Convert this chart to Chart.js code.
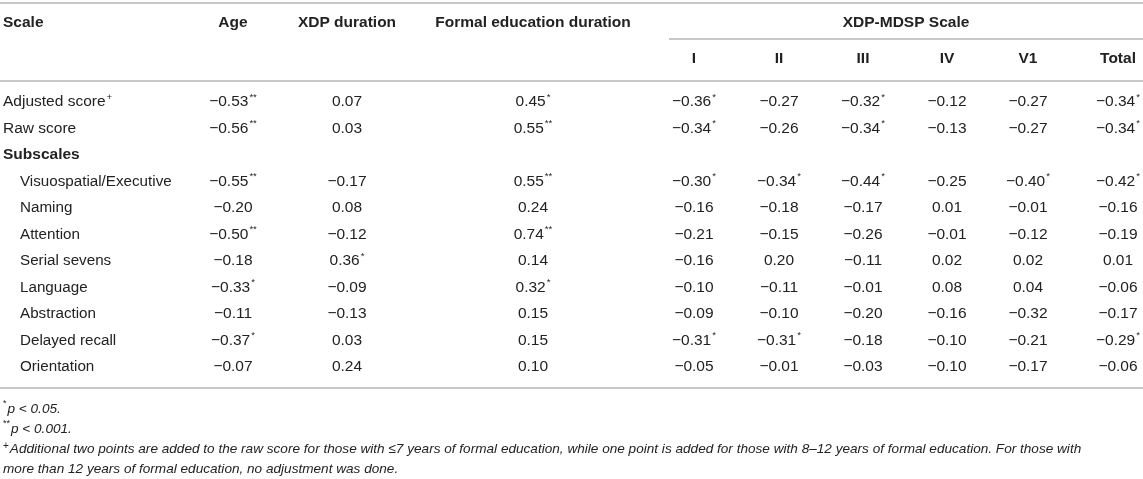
<!DOCTYPE html>
<html>
<head>
<meta charset="utf-8">
<script src="https://cdn.jsdelivr.net/npm/chart.js@4/dist/chart.umd.min.js"></script>
<style>
  html, body { margin: 0; padding: 0; background: #fff; }
  #wrap { position: relative; width: 1143px; height: 479px; }
</style>
</head>
<body>
<div id="wrap"><canvas id="corrTable"></canvas></div>
<script>
// --- table content ---
const firstHead = "Scale";
const columnHeads = ["Age", "XDP duration", "Formal education duration", "I", "II", "III", "IV", "V1", "Total"];
const groupHead = "XDP-MDSP Scale";
const mainRows = ["Adjusted score", "Raw score"];
const sectionLabel = "Subscales";
const subRows = ["Visuospatial/Executive", "Naming", "Attention", "Serial sevens", "Language",
                 "Abstraction", "Delayed recall", "Orientation"];

// correlations, rows = mainRows then subRows
const age      = [-0.53, -0.56, -0.55, -0.20, -0.50, -0.18, -0.33, -0.11, -0.37, -0.07];
const xdpDur   = [ 0.07,  0.03, -0.17,  0.08, -0.12,  0.36, -0.09, -0.13,  0.03,  0.24];
const eduDur   = [ 0.45,  0.55,  0.55,  0.24,  0.74,  0.14,  0.32,  0.15,  0.15,  0.10];
const mdspI    = [-0.36, -0.34, -0.30, -0.16, -0.21, -0.16, -0.10, -0.09, -0.31, -0.05];
const mdspII   = [-0.27, -0.26, -0.34, -0.18, -0.15,  0.20, -0.11, -0.10, -0.31, -0.01];
const mdspIII  = [-0.32, -0.34, -0.44, -0.17, -0.26, -0.11, -0.01, -0.20, -0.18, -0.03];
const mdspIV   = [-0.12, -0.13, -0.25,  0.01, -0.01,  0.02,  0.08, -0.16, -0.10, -0.10];
const mdspV1   = [-0.27, -0.27, -0.40, -0.01, -0.12,  0.02,  0.04, -0.32, -0.21, -0.17];
const mdspTot  = [-0.34, -0.34, -0.42, -0.16, -0.19,  0.01, -0.06, -0.17, -0.29, -0.06];

// number of significance stars per cell
const ageSig   = [2, 2, 2, 0, 2, 0, 1, 0, 1, 0];
const xdpSig   = [0, 0, 0, 0, 0, 1, 0, 0, 0, 0];
const eduSig   = [1, 2, 2, 0, 2, 0, 1, 0, 0, 0];
const iSig     = [1, 1, 1, 0, 0, 0, 0, 0, 1, 0];
const iiSig    = [0, 0, 1, 0, 0, 0, 0, 0, 1, 0];
const iiiSig   = [1, 1, 1, 0, 0, 0, 0, 0, 0, 0];
const ivSig    = [0, 0, 0, 0, 0, 0, 0, 0, 0, 0];
const v1Sig    = [0, 0, 1, 0, 0, 0, 0, 0, 0, 0];
const totSig   = [1, 1, 1, 0, 0, 0, 0, 0, 1, 0];

const footnotes = [
  ["*", "p < 0.05."],
  ["**", "p < 0.001."],
  ["+", "Additional two points are added to the raw score for those with \u22647 years of formal education, while one point is added for those with 8\u201312 years of formal education. For those with"],
  ["", "more than 12 years of formal education, no adjustment was done."]
];

// --- layout (pixels) ---
const W = 1143, H = 479;
const colCentre = [233, 347, 533, 694, 779, 863, 947, 1028, 1118];
const groupFrom = 669;
const firstRowPx = 102, rowPitch = 26.5;
const headRow1 = 23, headRow2 = 59;
const ruleTop = 3, ruleGroup = 39, ruleHead = 81, ruleBottom = 388;
const footTop = 409, footPitch = 20;
const leftPad = 3, indent = 20;
const ink = "#222";
const ruleColor = "#c8c8c8";
const FAMILY = "'Liberation Sans', Arial, Helvetica, sans-serif";

const columns = [age, xdpDur, eduDur, mdspI, mdspII, mdspIII, mdspIV, mdspV1, mdspTot];
const sigs = [ageSig, xdpSig, eduSig, iSig, iiSig, iiiSig, ivSig, v1Sig, totSig];

// table row index of each data row (row 2 holds the "Subscales" heading)
const dataRowIndex = mainRows.map((r, i) => i).concat(subRows.map((r, j) => mainRows.length + 1 + j));
const toRow = px => (px - firstRowPx) / rowPitch;

function fmt(v) {
  const s = Math.abs(v).toFixed(2);
  return v < 0 ? "\u2212" + s : s;
}

function drawWithSup(ctx, text, sup, x, y, align, size) {
  ctx.font = size + "px " + FAMILY;
  const w1 = ctx.measureText(text).width;
  ctx.font = (size * 0.62) + "px " + FAMILY;
  const w2 = sup ? ctx.measureText(sup).width + 1 : 0;
  const start = align === "center" ? x - (w1 + w2) / 2 : x;
  ctx.textAlign = "left";
  ctx.font = size + "px " + FAMILY;
  ctx.fillText(text, start, y);
  if (sup) {
    ctx.font = (size * 0.62) + "px " + FAMILY;
    ctx.fillText(sup, start + w1 + 1, y - size * 0.33);
  }
}

const tablePlugin = {
  id: "tablePlugin",
  afterDatasetsDraw(chart) {
    const { ctx, scales: { x, y } } = chart;
    ctx.save();
    ctx.fillStyle = ink;
    ctx.textBaseline = "middle";

    // rules
    ctx.strokeStyle = ruleColor;
    ctx.lineWidth = 2;
    const rule = (x0, x1, py) => {
      const yy = y.getPixelForValue(toRow(py));
      ctx.beginPath();
      ctx.moveTo(x.getPixelForValue(x0), yy);
      ctx.lineTo(x.getPixelForValue(x1), yy);
      ctx.stroke();
    };
    rule(0, W, ruleTop);
    rule(groupFrom, W, ruleGroup);
    rule(0, W, ruleHead);
    rule(0, W, ruleBottom);

    // header
    ctx.font = "bold 15.5px " + FAMILY;
    ctx.textAlign = "left";
    ctx.fillText(firstHead, x.getPixelForValue(leftPad), y.getPixelForValue(toRow(headRow1)));
    ctx.textAlign = "center";
    ctx.fillText(groupHead, x.getPixelForValue((groupFrom + W) / 2), y.getPixelForValue(toRow(headRow1)));
    columnHeads.forEach((h, c) => {
      const row = c < 3 ? headRow1 : headRow2;
      ctx.fillText(h, x.getPixelForValue(colCentre[c]), y.getPixelForValue(toRow(row)));
    });

    // row labels
    mainRows.forEach((r, i) => {
      drawWithSup(ctx, r, i === 0 ? "+" : "", x.getPixelForValue(leftPad),
        y.getPixelForValue(dataRowIndex[i]), "left", 15.5);
    });
    ctx.font = "bold 15.5px " + FAMILY;
    ctx.textAlign = "left";
    ctx.fillText(sectionLabel, x.getPixelForValue(leftPad), y.getPixelForValue(mainRows.length));
    subRows.forEach((r, j) => {
      drawWithSup(ctx, r, "", x.getPixelForValue(indent),
        y.getPixelForValue(dataRowIndex[mainRows.length + j]), "left", 15.2);
    });

    // cells, placed from each dataset's point elements
    chart.data.datasets.forEach((ds, di) => {
      const meta = chart.getDatasetMeta(di);
      meta.data.forEach((pt, i) => {
        drawWithSup(ctx, fmt(ds.values[i]), "*".repeat(ds.stars[i]), pt.x, pt.y, "center", 15.5);
      });
    });

    // footnotes
    footnotes.forEach((f, k) => {
      const py = y.getPixelForValue(toRow(footTop + k * footPitch));
      let px = x.getPixelForValue(leftPad);
      if (f[0]) {
        ctx.font = (f[0] === "+" ? "10px " : "9px ") + FAMILY;
        ctx.textAlign = "left";
        ctx.fillText(f[0], px, py - (f[0] === "+" ? 3 : 5));
        px += ctx.measureText(f[0]).width + 1;
      }
      ctx.font = "italic 13.6px " + FAMILY;
      ctx.fillText(f[1], px, py);
    });
    ctx.restore();
  }
};

new Chart(document.getElementById("corrTable"), {
  type: "scatter",
  data: {
    datasets: columns.map((vals, c) => ({
      label: columnHeads[c],
      values: vals,
      stars: sigs[c],
      data: vals.map((v, i) => ({ x: colCentre[c], y: dataRowIndex[i] })),
      pointRadius: 0,
      pointHoverRadius: 0
    }))
  },
  options: {
    responsive: true,
    maintainAspectRatio: false,
    animation: false,
    events: [],
    layout: { padding: 0 },
    scales: {
      x: { type: "linear", min: 0, max: W, display: false },
      y: { type: "linear", min: toRow(0), max: toRow(H), reverse: true, display: false }
    },
    plugins: {
      legend: { display: false },
      tooltip: { enabled: false }
    }
  },
  plugins: [tablePlugin]
});
</script>
</body>
</html>
